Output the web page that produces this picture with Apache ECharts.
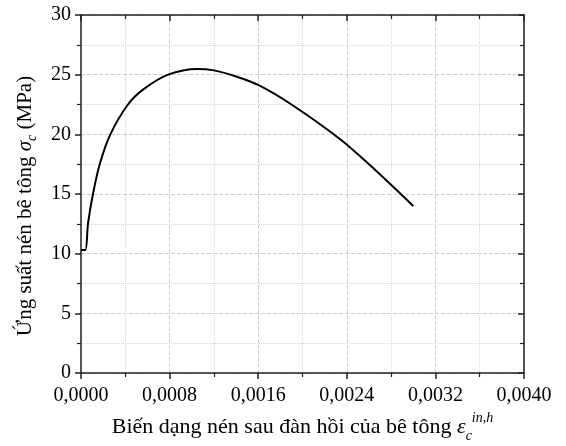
<!DOCTYPE html>
<html>
<head>
<meta charset="utf-8">
<script src="https://cdn.jsdelivr.net/npm/echarts@6/dist/echarts.min.js"></script>
<style>html,body{margin:0;padding:0;background:#fff;}#c{width:566px;height:446px;}</style>
</head>
<body>
<div id="c"></div>
<script>
var strainX = [0, 0.000039, 0.000063, 0.000108, 0.000169, 0.000265, 0.000424, 0.00056, 0.000786, 0.00105, 0.0012, 0.0014, 0.0016, 0.0019, 0.00234, 0.00264, 0.003];
var stressY = [10.3, 10.3, 12.5, 15.0, 17.5, 20.0, 22.5, 23.75, 25.0, 25.48, 25.36, 24.85, 24.14, 22.5, 19.59, 17.16, 14.0];
var xTickMin = 0, xTickMax = 0.004, xTickStep = 0.0008;
var yTickMin = 0, yTickMax = 30, yTickStep = 5;

var FONT = "'Liberation Serif', 'Times New Roman', serif";
var chart = echarts.init(document.getElementById('c'), null, {renderer: 'canvas'});
var pts = strainX.map(function (x, i) { return [x, stressY[i]]; });
var axisLineStyle = {color: '#222', width: 1.5};
var grid = {type: 'dashed', color: '#cfcfcf', width: 1};
var minorGrid = {type: 'dotted', color: '#d6d6d6', width: 1};

chart.setOption({
  animation: false,
  backgroundColor: '#fff',
  grid: {left: 81, right: 42, top: 15, bottom: 73, containLabel: false, outerBoundsMode: 'none'},
  xAxis: [{
    type: 'value', position: 'bottom', min: xTickMin, max: xTickMax, interval: xTickStep,
    axisLine: {show: true, onZero: false, lineStyle: axisLineStyle},
    axisTick: {show: true, inside: false, length: 6, lineStyle: {color: '#222', width: 1.5}},
    minorTick: {show: true, splitNumber: 2, length: 4, lineStyle: {color: '#222', width: 1.2}},
    axisLabel: {
      color: '#000', fontFamily: FONT, fontSize: 20, margin: 13,
      formatter: function (v) { return v.toFixed(4).replace('.', ','); }
    },
    splitLine: {show: true, lineStyle: grid},
    minorSplitLine: {show: true, lineStyle: minorGrid},
    name: 'Biến dạng nén sau đàn hồi của bê tông {e|ε}{sub|c}{sup|in,h}',
    nameLocation: 'middle', nameGap: 33,
    nameTextStyle: {
      color: '#000', fontFamily: FONT, fontSize: 22,
      rich: {
        e: {fontFamily: FONT, fontSize: 22, fontStyle: 'italic', color: '#000'},
        sub: {fontFamily: FONT, fontSize: 14, fontStyle: 'italic', color: '#000', verticalAlign: 'bottom', lineHeight: 28},
        sup: {fontFamily: FONT, fontSize: 14, fontStyle: 'italic', color: '#000', verticalAlign: 'top', lineHeight: 32}
      }
    }
  }, {
    type: 'value', position: 'top', min: xTickMin, max: xTickMax, interval: xTickStep,
    axisLine: {show: true, onZero: false, lineStyle: axisLineStyle},
    axisTick: {show: true, inside: true, length: 6, lineStyle: {color: '#222', width: 1.5}},
    minorTick: {show: true, splitNumber: 2, length: 4, lineStyle: {color: '#222', width: 1.2}},
    axisLabel: {show: false}, splitLine: {show: false}
  }],
  yAxis: [{
    type: 'value', position: 'left', min: yTickMin, max: yTickMax, interval: yTickStep,
    axisLine: {show: true, onZero: false, lineStyle: axisLineStyle},
    axisTick: {show: true, inside: false, length: 6, lineStyle: {color: '#222', width: 1.5}},
    minorTick: {show: true, splitNumber: 2, length: 4, lineStyle: {color: '#222', width: 1.2}},
    axisLabel: {color: '#000', fontFamily: FONT, fontSize: 20, margin: 10},
    splitLine: {show: true, lineStyle: grid},
    minorSplitLine: {show: true, lineStyle: minorGrid},
    name: 'Ứng suất nén bê tông {s|σ}{sub|c} (MPa)',
    nameLocation: 'middle', nameGap: 42, nameRotate: 90,
    nameTextStyle: {
      color: '#000', fontFamily: FONT, fontSize: 21, padding: [0, 24, 0, 0],
      rich: {
        s: {fontFamily: FONT, fontSize: 21, fontStyle: 'italic', color: '#000'},
        sub: {fontFamily: FONT, fontSize: 14, fontStyle: 'italic', color: '#000', verticalAlign: 'bottom', lineHeight: 28}
      }
    }
  }, {
    type: 'value', position: 'right', min: yTickMin, max: yTickMax, interval: yTickStep,
    axisLine: {show: true, onZero: false, lineStyle: axisLineStyle},
    axisTick: {show: true, inside: true, length: 6, lineStyle: {color: '#222', width: 1.5}},
    minorTick: {show: true, splitNumber: 2, length: 4, lineStyle: {color: '#222', width: 1.2}},
    axisLabel: {show: false}, splitLine: {show: false}
  }],
  series: [{
    type: 'line', xAxisIndex: 0, yAxisIndex: 0, data: pts,
    showSymbol: false, symbol: 'none', smooth: 0.3,
    lineStyle: {color: '#000', width: 2},
    z: 5
  }]
});
</script>
</body>
</html>
